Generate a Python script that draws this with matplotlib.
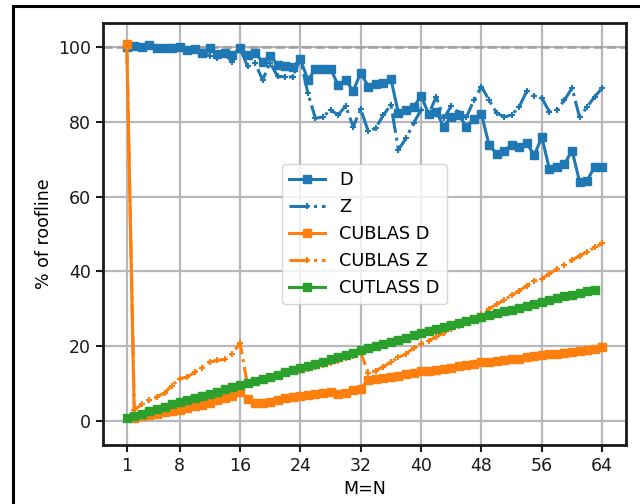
import matplotlib
matplotlib.use("Agg")
import matplotlib.pyplot as plt
from matplotlib.patches import Rectangle

x_vals = list(range(1, 65))
x_cutlass = list(range(1, 64))
xtick_vals = [1, 8, 16, 24, 32, 40, 48, 56, 64]

d_vals = [100.0, 100.2, 100.1, 100.4, 99.8, 99.7, 99.8, 100.1, 99.2, 99.5,
          98.3, 99.6, 98.2, 98.5, 97.9, 99.6, 97.8, 98.3, 96.1, 97.6,
          95.2, 94.9, 94.6, 96.7, 91.2, 94.0, 94.0, 94.2, 89.8, 91.2,
          88.2, 93.1, 89.4, 90.0, 90.3, 91.4, 82.3, 83.2, 83.9, 86.9,
          82.1, 82.7, 78.7, 81.4, 81.8, 78.7, 80.7, 82.1, 73.8, 71.5,
          72.3, 73.8, 73.2, 74.2, 71.1, 75.9, 67.3, 68.0, 68.7, 72.3,
          64.0, 64.3, 68.0, 68.0]

z_vals = [100.0, 100.0, 100.0, 100.2, 99.6, 99.5, 99.6, 99.9, 99.0, 99.2,
          98.6, 97.5, 97.0, 97.9, 96.1, 99.7, 94.8, 95.7, 91.2, 95.7,
          92.1, 92.0, 92.0, 97.0, 87.6, 80.9, 81.3, 83.2, 81.8, 84.2,
          78.7, 83.4, 77.4, 78.3, 81.8, 84.5, 72.5, 75.6, 79.6, 83.2,
          82.0, 86.7, 80.9, 84.2, 82.3, 81.2, 85.8, 89.4, 85.8, 82.4,
          81.3, 81.8, 84.0, 88.2, 86.9, 86.3, 82.7, 83.2, 85.8, 89.0,
          81.2, 84.0, 86.7, 89.0]

cublas_d = [100.8, 0.9, 1.3, 1.6, 2.0, 2.3, 2.7, 3.0, 3.4, 3.9,
            4.4, 4.8, 5.5, 6.1, 6.8, 7.7, 5.9, 4.7, 4.9, 5.2,
            5.6, 6.1, 6.5, 6.7, 7.0, 7.3, 7.6, 7.7, 7.3, 7.5,
            8.2, 8.6, 11.1, 11.3, 11.6, 11.8, 12.1, 12.5, 12.9, 13.4,
            13.5, 13.7, 14.0, 14.3, 14.6, 14.9, 15.2, 15.9, 15.7, 16.0,
            16.3, 16.5, 16.7, 17.0, 17.3, 17.6, 17.8, 18.0, 18.3, 18.5,
            18.8, 19.0, 19.3, 19.7]

cublas_z = [100.5, 2.9, 4.5, 5.5, 6.5, 7.5, 9.5, 11.3, 11.8, 13.0,
            14.3, 15.8, 16.2, 16.5, 18.0, 20.9, 9.7, 10.5, 11.0, 11.5,
            12.0, 12.5, 13.0, 13.5, 14.0, 14.5, 15.0, 15.5, 16.0, 16.8,
            17.3, 18.3, 12.8, 13.5, 14.5, 15.8, 17.0, 18.0, 19.5, 20.5,
            21.5, 22.5, 23.5, 24.5, 25.5, 26.5, 27.5, 28.5, 30.0, 31.2,
            32.4, 33.6, 34.8, 36.2, 37.4, 38.0, 39.4, 40.6, 41.8, 43.0,
            44.2, 45.3, 46.4, 47.5]

cutlass_d = [0.7, 1.3, 2.0, 2.6, 3.2, 3.8, 4.5, 5.0, 5.6, 6.2,
             6.8, 7.3, 7.9, 8.5, 9.0, 9.6, 10.2, 10.7, 11.3, 11.9,
             12.4, 13.0, 13.6, 14.1, 14.7, 15.3, 15.9, 16.5, 17.1, 17.7,
             18.3, 18.9, 19.5, 20.0, 20.6, 21.2, 21.8, 22.3, 22.9, 23.5,
             24.0, 24.6, 25.1, 25.7, 26.2, 26.8, 27.3, 27.8, 28.3, 28.8,
             29.3, 29.8, 30.3, 30.8, 31.3, 31.8, 32.3, 32.8, 33.3, 33.7,
             34.2, 34.7, 35.1]

plt.rcParams['font.family'] = ['DejaVu Sans']
plt.rcParams['font.size'] = 12.5

fig = plt.figure(figsize=(6.4, 5.04), dpi=100)
ax = fig.add_axes([103/640, 1 - 445/504, (626 - 103)/640, (445 - 23)/504])

ax.grid(True, color='#b8b8bc', linewidth=1.6, zorder=0)
ax.set_axisbelow(True)
ax.axhline(100, color='#a0a0a0', linestyle='--', linewidth=1.8, zorder=1)

lw = 2.2
ax.plot(x_vals, d_vals, '-', marker='s', color='#1f77b4', lw=lw, ms=5.5, label='D')
ax.plot(x_vals, z_vals, '-.', marker='+', color='#1f77b4', lw=lw, ms=5, mew=1.5, label='Z')
ax.plot(x_vals, cublas_d, '-', marker='s', color='#ff7f0e', lw=lw, ms=5.5, label='CUBLAS D')
ax.plot(x_vals, cublas_z, '-.', marker='+', color='#ff7f0e', lw=lw, ms=5, mew=1.5, label='CUBLAS Z')
ax.plot(x_cutlass, cutlass_d, '-', marker='s', color='#2ca02c', lw=lw, ms=5.5, label='CUTLASS D')

ax.set_xticks(xtick_vals)
ax.set_ylim(-6.4, 106.4)
ax.set_xlim(-2.15, 67.15)
ax.set_xlabel('M=N')
ax.set_ylabel('% of roofline')
for sp in ax.spines.values():
    sp.set_linewidth(2.0)
    sp.set_color('#1a1a1a')
ax.tick_params(width=1.5, length=5, colors='#1a1a1a')

ax.legend(loc='center', fontsize=12.8, framealpha=0.8)

fig.patches.append(Rectangle((13/640, -0.2), 2.0, 1.2 - 5.5/504,
                             transform=fig.transFigure, fill=False,
                             edgecolor='black', linewidth=2.2, clip_on=False))

fig.savefig('out.png', dpi=100)
